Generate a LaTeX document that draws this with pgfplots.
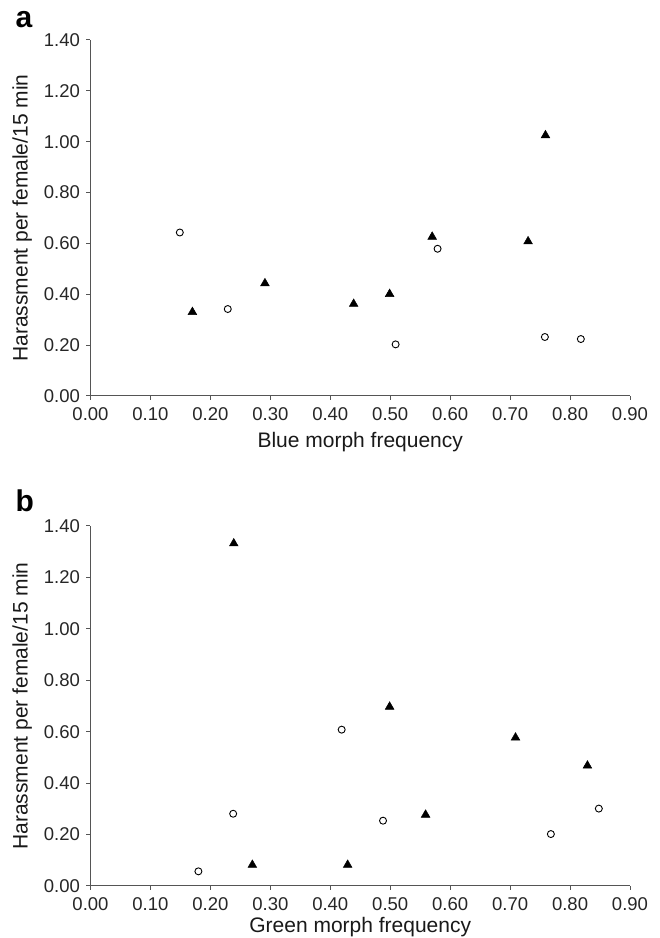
\documentclass[border=0pt]{standalone}
\usepackage{fontspec}
\setmainfont{Liberation Sans}
\usepackage{pgfplots}
\pgfplotsset{compat=1.18}
\definecolor{axgray}{RGB}{85,85,85}

\pgfplotsset{
  morphstyle/.style={
    scale only axis, width=539.5pt,
    xmin=0, xmax=0.9, ymin=0, ymax=1.4,
    axis x line*=bottom, axis y line*=left,
    axis line style={draw=axgray, line width=1pt, -},
    xtick={0,0.1,0.2,0.3,0.4,0.5,0.6,0.7,0.8,0.9},
    ytick={0,0.2,0.4,0.6,0.8,1.0,1.2,1.4},
    tick align=outside, major tick length=4pt,
    tick style={draw=axgray, line width=1pt},
    /pgf/number format/.cd, fixed, zerofill, precision=2, assume math mode=true,
    /pgfplots/.cd,
    ticklabel style={font=\fontsize{18.5}{20}\selectfont, text=black!85},
    xticklabel style={yshift=-4pt},
    yticklabel style={xshift=-3pt},
    label style={font=\fontsize{21}{24}\selectfont, text=black!90},
    ylabel style={yshift=5pt},
    ylabel={Harassment per female/15 min},
    clip=false,
  },
  tri/.style={only marks, mark=triangle*, mark size=5pt, mark options={fill=black, draw=black, line width=0.5pt}},
  circ/.style={only marks, mark=o, mark size=3.5pt, mark options={draw=black, fill=white, line width=0.9pt}},
}

\begin{document}
\begin{tikzpicture}
\useasboundingbox (0pt,0pt) rectangle (660pt,938pt);

% panel a
\begin{axis}[morphstyle, height=356pt, at={(90.5pt,542pt)}, anchor=south west,
  xlabel={Blue morph frequency}, xlabel style={yshift=-5pt}]
  \addplot[circ] coordinates {(0.149,0.643) (0.229,0.342) (0.509,0.203) (0.579,0.579) (0.758,0.232) (0.818,0.224)};
  \addplot[tri] coordinates {(0.170,0.330) (0.291,0.443) (0.439,0.362) (0.499,0.401) (0.570,0.626) (0.730,0.608) (0.759,1.025)};
\end{axis}
\node[anchor=base west, font=\fontsize{30}{32}\selectfont\bfseries] at (12pt,910pt) {a};

% panel b
\begin{axis}[morphstyle, height=360pt, at={(90.5pt,52pt)}, anchor=south west,
  xlabel={Green morph frequency}, xlabel style={yshift=0pt}]
  \addplot[circ] coordinates {(0.180,0.057) (0.238,0.281) (0.419,0.608) (0.488,0.254) (0.768,0.202) (0.848,0.301)};
  \addplot[tri] coordinates {(0.239,1.332) (0.270,0.082) (0.429,0.082) (0.499,0.697) (0.559,0.277) (0.709,0.577) (0.829,0.468)};
\end{axis}
\node[anchor=base west, font=\fontsize{30}{32}\selectfont\bfseries] at (12pt,426pt) {b};
\end{tikzpicture}
\end{document}
